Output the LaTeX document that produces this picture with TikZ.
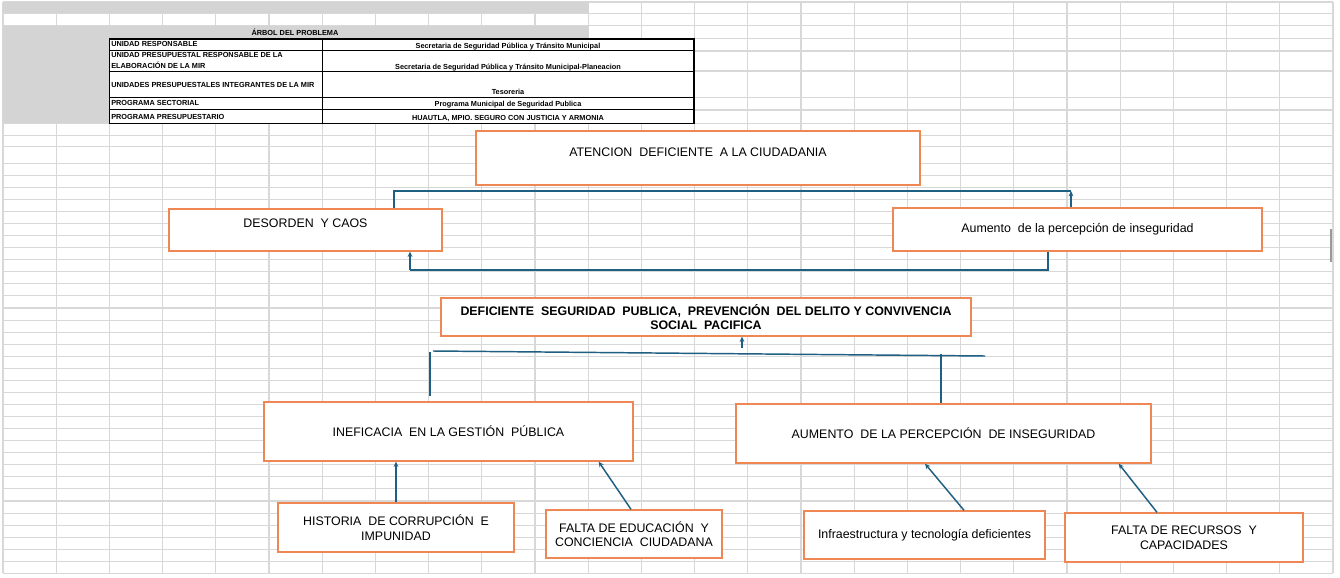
\documentclass[tikz,border=0pt]{standalone}
\usepackage{fontspec}
\setmainfont{Liberation Sans}
\usepackage{tikz}
\usetikzlibrary{positioning, calc, arrows.meta}

\definecolor{rejillagris}{RGB}{216,216,216}
\definecolor{encabezado}{RGB}{212,212,212}
\definecolor{bordenaranja}{RGB}{239,135,84}
\definecolor{azulenlace}{RGB}{31,95,130}

\tikzset{
  rejilla/.style={draw=rejillagris, line width=0.8pt},
  caja/.style={draw=bordenaranja, fill=white, line width=1pt, inner sep=0pt, align=center,
    font=\fontsize{9.3}{10.9}\selectfont},
  linea/.style={draw=azulenlace, line width=1.1pt},
  flecha/.style={linea, -{Stealth[length=4pt,width=3.6pt]}},
  tabla/.style={inner sep=0pt, font=\fontsize{5.5}{8}\selectfont\bfseries},
}

\begin{document}
\begin{tikzpicture}[x=0.75pt, y=-0.75pt]
        \useasboundingbox (0,0) rectangle (1340,578);
        \fill[white] (0,0) rectangle (1340,578);

        \foreach \c in {0,...,25}
            \draw[rejilla] ({3+53.2*\c},2) -- ({3+53.2*\c},573.3);
        \foreach \f in {2,13.3,25.7,38.3,51,71,97.3,110,123.3,135.5,146.7}
            \draw[rejilla] (3,\f) -- (1333,\f);
        \foreach \k in {0,...,34}
            \draw[rejilla] (3,{163.3+12.06*\k}) -- (1333,{163.3+12.06*\k});

        % encabezado
        \fill[encabezado] (3,2) rectangle (588.7,13.3);
        \fill[encabezado] (3,25.7) rectangle (588.7,38.3);
        \fill[encabezado] (3,38.3) rectangle (109.4,123.3);
        \fill[white] (109.4,39) rectangle (694,123.3);
        \draw[black, line width=0.6pt] (109.4,50) -- (694,50) (109.4,71.7) -- (694,71.7)
            (109.4,97.7) -- (694,97.7) (109.4,109.3) -- (694,109.3) (322.8,39) -- (322.8,123.3);
        \draw[black, line width=1pt] (109.4,39) rectangle (694,123.3);

        \node[tabla] (titulo) at (295,32) {ÁRBOL DEL PROBLEMA};
        \node[tabla, anchor=west] (r1) at (111,44.3) {UNIDAD RESPONSABLE};
        \node[tabla, anchor=west, align=left] (r2) at (111,60.3) {UNIDAD PRESUPUESTAL RESPONSABLE DE LA\\ELABORACIÓN DE LA MIR};
        \node[tabla, anchor=west] (r3) at (111,84.7) {UNIDADES PRESUPUESTALES INTEGRANTES DE LA MIR};
        \node[tabla, anchor=west] (r4) at (111,103) {PROGRAMA SECTORIAL};
        \node[tabla, anchor=west] (r5) at (111,116.5) {PROGRAMA PRESUPUESTARIO};
        \node[tabla] (v1) at (508,46.7) {Secretaria de Seguridad Pública y Tránsito Municipal};
        \node[tabla] (v2) at (508,67.3) {Secretaria de Seguridad Pública y Tránsito Municipal-Planeacion};
        \node[tabla] (v3) at (508,91.7) {Tesoreria};
        \node[tabla] (v4) at (508,105) {Programa Municipal de Seguridad Publica};
        \node[tabla] (v5) at (508,118.3) {HUAUTLA, MPIO. SEGURO CON JUSTICIA Y ARMONIA};

        % efectos
        \node[caja, minimum width=333pt, text height=19.1pt, text depth=21.4pt] (atencion) at (698,158)
            {ATENCION\ \ DEFICIENTE\ \ A LA CIUDADANIA};
        \node[caja, minimum width=204.75pt, text height=13.9pt, text depth=17.6pt] (desorden) at (305.5,230)
            {DESORDEN\ \ Y CAOS};
        \node[caja, minimum width=276.75pt, minimum height=32.25pt] (aumento) at (1077.5,229.5)
            {Aumento\ \ de la percepción de inseguridad};

        % problema
        \node[caja, minimum width=397.5pt, minimum height=28.5pt, font=\fontsize{9.3}{10.7}\selectfont\bfseries] (problema) at (706,317)
            {DEFICIENTE\ \ SEGURIDAD\ \ PUBLICA,\ \ PREVENCIÓN\ \ DEL DELITO Y CONVIVENCIA\\SOCIAL\ \ PACIFICA};

        % causas
        \node[caja, minimum width=276.75pt, minimum height=44.25pt] (ineficacia) at (448.5,431.5)
            {INEFICACIA\ \ EN LA GESTIÓN\ \ PÚBLICA};
        \node[caja, minimum width=311.25pt, minimum height=44.25pt] (percepcion) at (943.5,433.5)
            {AUMENTO\ \ DE LA PERCEPCIÓN\ \ DE INSEGURIDAD};
        \node[caja, minimum width=177pt, minimum height=36.75pt] (historia) at (396,527.5)
            {HISTORIA\ \ DE CORRUPCIÓN\ \ E\\IMPUNIDAD};
        \node[caja, minimum width=132pt, minimum height=36pt] (educacion) at (634,534)
            {FALTA DE EDUCACIÓN\ \ Y\\CONCIENCIA\ \ CIUDADANA};
        \node[caja, minimum width=180.75pt, minimum height=36pt] (infra) at (924.5,535)
            {Infraestructura y tecnología deficientes};
        \node[caja, minimum width=178.5pt, minimum height=36.75pt] (recursos) at (1184,537.5)
            {FALTA DE RECURSOS\ \ Y\\CAPACIDADES};

        % conectores
        \coordinate (codo1) at (394,191);
        \coordinate (codo2) at (1071,191);
        \draw[linea] (desorden.north -| codo1) -- (codo1) -- (codo2);
        \draw[flecha] (aumento.north -| codo2) -- (codo2);
        \coordinate (codo3) at (1048,270);
        \coordinate (codo4) at (410,270);
        \draw[linea] (aumento.south -| codo3) -- (codo3) -- (codo4);
        \draw[flecha] (codo4) -- (desorden.south -| codo4);

        \coordinate (base) at (742,348);
        \draw[flecha] (base) -- (problema.south -| base);
        \coordinate (ramai) at (433,351);
        \coordinate (ramad) at (985,356);
        \draw[linea] (ramai) -- (ramad);
        \coordinate (bajai) at (430,352);
        \coordinate (bajaf) at (430,396);
        \draw[linea] (bajai) -- (bajaf);
        \coordinate (bajad) at (941,354);
        \draw[linea] (bajad) -- (percepcion.north -| bajad);

        \draw[flecha] (historia.north) -- (ineficacia.south -| historia.north);
        \draw[flecha] ($(educacion.north)+(-3,0)$) -- ($(ineficacia.south east)+(-35,0)$);
        \draw[flecha] ($(infra.north)+(39.5,0)$) -- ($(percepcion.south)+(-18.5,0)$);
        \draw[flecha] ($(recursos.north)+(-27,0)$) -- ($(percepcion.south east)+(-33,0)$);

        \draw[black!40, line width=0.8pt] (1331,229) -- (1331,262);
    \end{tikzpicture}
\end{document}
